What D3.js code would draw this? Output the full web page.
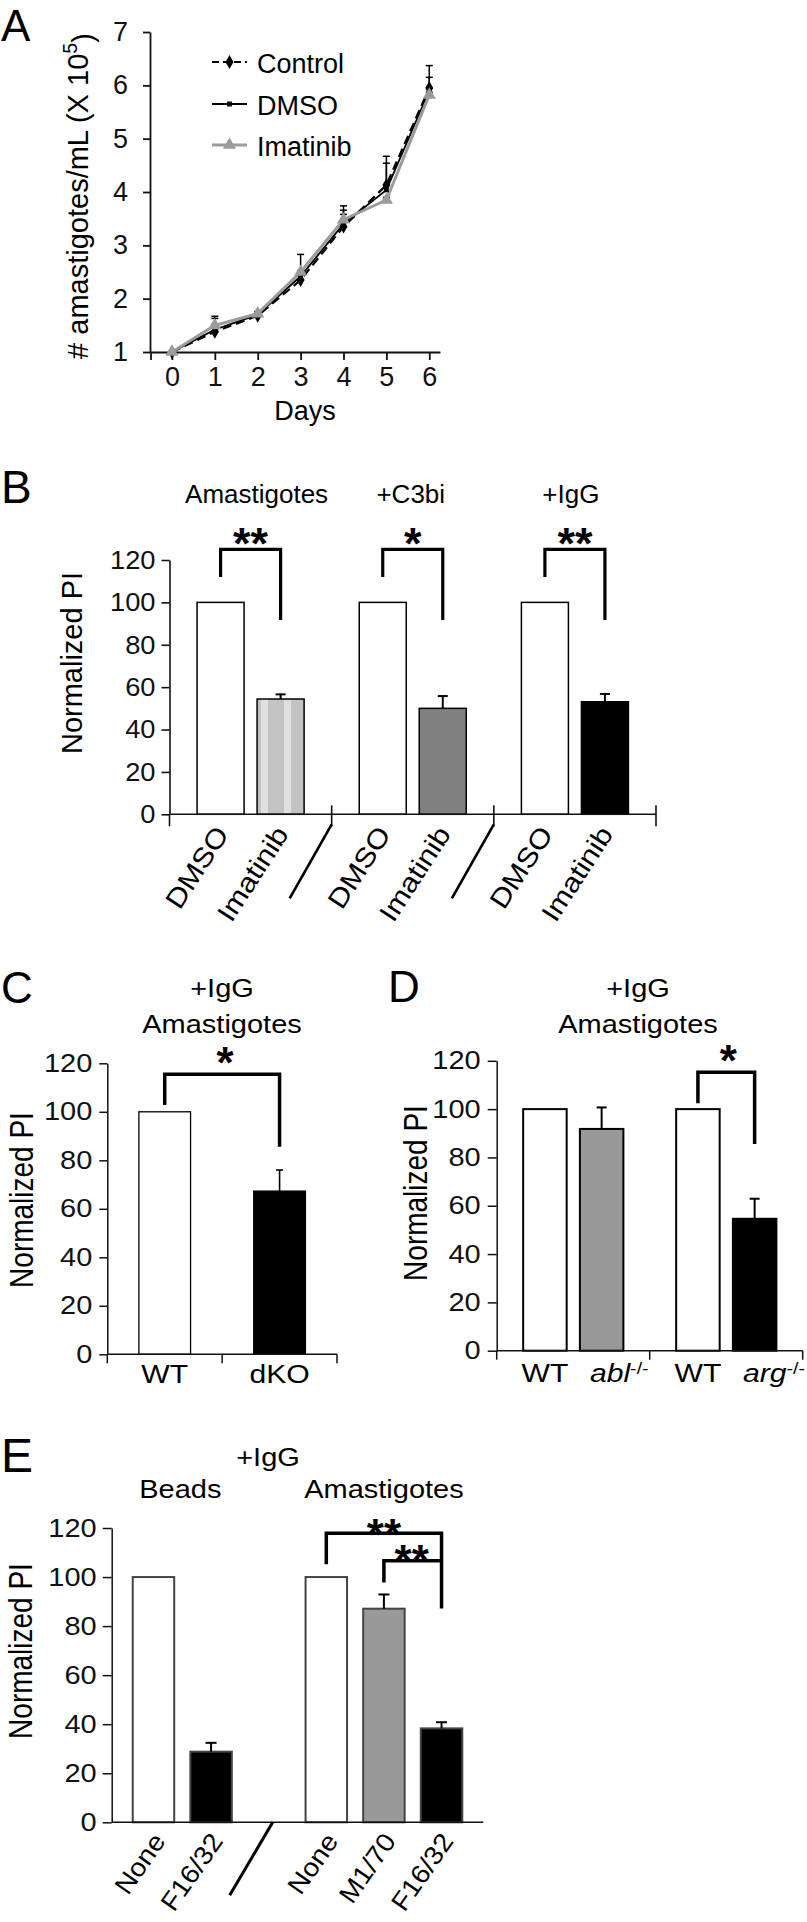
<!DOCTYPE html>
<html><head><meta charset="utf-8">
<script src="https://cdn.jsdelivr.net/npm/d3@7"></script>
<style>body{margin:0;background:#fff} svg{display:block}</style>
</head><body>
<script>
// ================= DATA =================
// Panel A
const days = [0, 1, 2, 3, 4, 5, 6];
const aTicks = [1, 2, 3, 4, 5, 6, 7];
const controlVals = [1.0, 1.38, 1.68, 2.35, 3.35, 4.13, 5.95];
const controlErr  = [0, 0.25, 0.05, 0.10, 0.31, 0.54, 0.42];
const dmsoVals    = [1.0, 1.42, 1.70, 2.42, 3.40, 4.04, 5.90];
const dmsoErr     = [0, 0.10, 0.04, 0.10, 0.34, 0.50, 0.25];
const imatinibVals = [1.0, 1.50, 1.72, 2.50, 3.48, 3.85, 5.82];
const imatinibErr  = [0, 0.17, 0.04, 0.33, 0.10, 0.05, 0.05];
const seriesNames = ['Control', 'DMSO', 'Imatinib'];

// Panel B
const bGroups = ['Amastigotes', '+C3bi', '+IgG'];
const bTreat = ['DMSO', 'Imatinib'];
const bVals = [[100, 54.4], [100, 50.0], [100, 53.1]];
const bErr  = [[0, 2.2], [0, 5.8], [0, 3.7]];
const bSig  = ['**', '*', '**'];
const piTicks = [0, 20, 40, 60, 80, 100, 120];

// Panel C
const cCats = ['WT', 'dKO'];
const cVals = [100, 67.3];
const cErr  = [0, 8.7];
const cSig  = '*';

// Panel D
const dGenes = ['abl', 'arg'];
const dBars = ['WT', 'KO'];
const dVals = [[100, 91.8], [100, 54.6]];
const dErr  = [[0, 8.9], [0, 8.3]];
const dSig  = ['', '*'];

// Panel E
const eBeadsCats = ['None', 'F16/32'];
const eBeadsVals = [100, 28.8];
const eBeadsErr  = [0, 3.6];
const eAmaCats = ['None', 'M1/70', 'F16/32'];
const eAmaVals = [100, 87.1, 38.3];
const eAmaErr  = [0, 5.8, 2.5];
const eSig = ['**', '**'];

// ================= SETUP =================
const FONT = "'Liberation Sans', Arial, Helvetica, sans-serif";
const svg = d3.select('body').append('svg').attr('width', 807).attr('height', 1922);
const defs = svg.append('defs');
const pat = defs.append('pattern').attr('id', 'stripes').attr('patternUnits', 'userSpaceOnUse')
  .attr('width', 23).attr('height', 12);
pat.append('rect').attr('width', 23).attr('height', 12).attr('fill', '#c3c3c3');
pat.append('rect').attr('x', 8).attr('width', 7).attr('height', 12).attr('fill', '#e0e0e0');

function txt(g, x, y, s, o = {}) {
  const sx = o.sx || 1, rot = o.rotate || 0;
  const tr = o.screenStretch
    ? `translate(${x},${y}) scale(${sx},1) rotate(${rot})`
    : `translate(${x},${y}) rotate(${rot}) scale(${sx},1)`;
  const t = g.append('text').attr('transform', tr)
    .attr('text-anchor', o.anchor || 'middle')
    .attr('font-family', FONT).attr('font-size', o.size || 25)
    .attr('font-weight', o.weight || 'normal').attr('fill', o.fill || '#000');
  if (s !== null) t.text(s);
  return t;
}
function styleAxis(ax, o) {
  ax.attr('font-family', null).attr('font-size', null);
  ax.select('.domain').attr('stroke', '#111').attr('stroke-width', o.lw || 1.6);
  ax.selectAll('.tick line').attr('stroke', '#111').attr('stroke-width', o.lw || 1.6);
  ax.selectAll('.tick text').each(function () {
    const t = d3.select(this);
    const x = +t.attr('x') || 0, y = +t.attr('y') || 0;
    t.attr('x', 0).attr('y', 0).attr('transform', `translate(${x},${y}) scale(${o.sx || 1},1)`);
  }).attr('font-family', FONT).attr('font-size', o.size).attr('fill', '#111');
}
function errBar(g, x, y0, y1, cap, lw) {
  g.append('line').attr('x1', x).attr('x2', x).attr('y1', y0).attr('y2', y1)
    .attr('stroke', '#000').attr('stroke-width', lw);
  g.append('line').attr('x1', x - cap / 2).attr('x2', x + cap / 2).attr('y1', y1).attr('y2', y1)
    .attr('stroke', '#000').attr('stroke-width', lw);
}
function bracket(g, xl, yl, yt, xr, yr, lw) {
  g.append('path').attr('d', `M${xl},${yl}V${yt}H${xr}V${yr}`)
    .attr('fill', 'none').attr('stroke', '#000').attr('stroke-width', lw);
}

// ================= PANEL A =================
{
  const g = svg.append('g');
  const x = d3.scaleLinear().domain([-0.5, 6.25]).range([150.5, 440]);
  const y = d3.scaleLinear().domain([1, 7]).range([352, 32]);
  const ay = g.append('g').attr('transform', 'translate(150,0)')
    .call(d3.axisLeft(y).tickValues(aTicks).tickFormat(d3.format('d')).tickSize(7).tickPadding(15).tickSizeOuter(0));
  styleAxis(ay, { size: 27, lw: 1.8 });
  const ax = g.append('g').attr('transform', `translate(0,${y(1)})`)
    .call(d3.axisBottom(x).tickValues([-0.5, ...days]).tickFormat(d => d < 0 ? '' : d)
      .tickSize(8).tickPadding(7).tickSizeOuter(0));
  styleAxis(ax, { size: 27, lw: 1.8 });

  const vals = { Control: controlVals, DMSO: dmsoVals, Imatinib: imatinibVals };
  const errs = { Control: controlErr, DMSO: dmsoErr, Imatinib: imatinibErr };
  const st = {
    Control: { stroke: '#000', w: 2.2, dash: '9,5', sym: d3.symbolDiamond, ss: 55, fill: '#000' },
    DMSO: { stroke: '#000', w: 1.8, dash: null, sym: d3.symbolSquare, ss: 24, fill: '#000' },
    Imatinib: { stroke: '#9b9b9b', w: 3, dash: null, sym: d3.symbolTriangle, ss: 75, fill: '#9b9b9b' }
  };
  seriesNames.forEach(n => days.forEach((d, i) => {
    if (errs[n][i] > 0) errBar(g, x(d), y(vals[n][i]), y(vals[n][i] + errs[n][i]), 7, 1.5);
  }));
  const line = d3.line().x((v, i) => x(days[i])).y(v => y(v));
  seriesNames.forEach(n => {
    g.append('path').attr('d', line(vals[n])).attr('fill', 'none').attr('stroke', st[n].stroke)
      .attr('stroke-width', st[n].w).attr('stroke-dasharray', st[n].dash);
  });
  seriesNames.forEach(n => {
    g.selectAll(null).data(vals[n]).join('path')
      .attr('transform', (v, i) => `translate(${x(days[i])},${y(v)})`)
      .attr('d', d3.symbol().type(st[n].sym).size(st[n].ss)).attr('fill', st[n].fill);
  });
  const ly = [62, 104, 145];
  seriesNames.forEach((n, i) => {
    g.append('line').attr('x1', 212).attr('x2', 247).attr('y1', ly[i]).attr('y2', ly[i])
      .attr('stroke', st[n].stroke).attr('stroke-width', st[n].w).attr('stroke-dasharray', n === 'Control' ? '7,4' : null);
    g.append('path').attr('transform', `translate(229.5,${ly[i]})`)
      .attr('d', d3.symbol().type(st[n].sym).size(st[n].ss)).attr('fill', st[n].fill);
    txt(g, 257, ly[i] + 11, n, { size: 27, anchor: 'start' });
  });
  txt(g, 305, 420, 'Days', { size: 27 });
  const yt = txt(g, 88, 196, null, { size: 29, rotate: -90 });
  yt.append('tspan').text('# amastigotes/mL (X 10');
  yt.append('tspan').attr('dy', '-0.55em').attr('font-size', '0.68em').text('5');
  yt.append('tspan').attr('dy', '0.55em').text(')');
  txt(g, 1, 41, 'A', { size: 44, anchor: 'start' });
}

// ================= PANEL B =================
{
  const g = svg.append('g');
  const SX = 1.0;
  const x = d3.scaleBand().domain(bGroups).range([169.5, 656]);
  const bw = x.bandwidth();
  const xi = d3.scaleBand().domain(bTreat).range([bw * 0.17, bw * 0.83]).paddingInner(0.2167);
  const y = d3.scaleLinear().domain([0, 120]).range([814.3, 560]);
  const fills = [['#fff', 'url(#stripes)'], ['#fff', '#808080'], ['#fff', '#000']];
  const titleShift = [6, -2, -4];
  bGroups.forEach((gr, gi) => {
    bTreat.forEach((t, ti) => {
      const v = bVals[gi][ti];
      g.append('rect').attr('x', x(gr) + xi(t)).attr('width', xi.bandwidth())
        .attr('y', y(v)).attr('height', y(0) - y(v))
        .attr('fill', fills[gi][ti]).attr('stroke', '#000').attr('stroke-width', 1.5);
      if (bErr[gi][ti] > 0) errBar(g, x(gr) + xi(t) + xi.bandwidth() / 2, y(v), y(v + bErr[gi][ti]), 10, 2);
      txt(g, x(gr) + xi(t) + xi.bandwidth() / 2 + 9, 834, t, { size: 27, rotate: -57, anchor: 'end', sx: 1.13 });
    });
    const xl = x(gr) + xi('DMSO') + xi.bandwidth() / 2;
    const xr = x(gr) + xi('Imatinib') + xi.bandwidth() / 2;
    bracket(g, xl, y(112), y(125), xr, y(91.7), 3.2);
    txt(g, (xl + xr) / 2, y(125) + 10, bSig[gi], { size: 45, weight: 'bold' });
    txt(g, x(gr) + bw / 2 + titleShift[gi], 503, gr, { size: 26, sx: SX });
  });
  const ay = g.append('g').attr('transform', 'translate(169.5,0)')
    .call(d3.axisLeft(y).tickValues(piTicks).tickSize(8).tickPadding(6).tickSizeOuter(0));
  styleAxis(ay, { size: 26, sx: 1.05, lw: 1.6 });
  const [r0, r1] = x.range();
  g.append('line').attr('x1', r0).attr('x2', r1).attr('y1', y(0)).attr('y2', y(0)).attr('stroke', '#111').attr('stroke-width', 1.6);
  const bounds = [r0, ...bGroups.map(gr => x(gr) + bw)];
  bounds.forEach((b, i) => {
    g.append('line').attr('x1', b).attr('x2', b).attr('y1', i === 0 ? y(0) : y(0) - 9).attr('y2', y(0) + 12)
      .attr('stroke', '#111').attr('stroke-width', 1.6);
    if (i > 0 && i < bounds.length - 1)
      g.append('line').attr('x1', b).attr('y1', y(0) + 10).attr('x2', b - 42).attr('y2', y(0) + 84)
        .attr('stroke', '#000').attr('stroke-width', 2.6);
  });
  txt(g, 82, 663, 'Normalized PI', { size: 29, rotate: -90 });
  txt(g, 1, 503, 'B', { size: 46, anchor: 'start' });
}

// ================= PANEL C =================
{
  const g = svg.append('g');
  const SX = 1.16;
  const x = d3.scaleBand().domain(cCats).range([107.3, 337]).paddingInner(0.55).paddingOuter(0.275);
  const y = d3.scaleLinear().domain([0, 120]).range([1354.3, 1063.3]);
  const fills = ['#fff', '#000'];
  cCats.forEach((c, i) => {
    g.append('rect').attr('x', x(c)).attr('width', x.bandwidth()).attr('y', y(cVals[i]))
      .attr('height', y(0) - y(cVals[i])).attr('fill', fills[i]).attr('stroke', '#000').attr('stroke-width', 1.3);
    if (cErr[i] > 0) errBar(g, x(c) + x.bandwidth() / 2, y(cVals[i]), y(cVals[i] + cErr[i]), 7, 1.6);
    txt(g, x(c) + x.bandwidth() / 2, y(0) + 29, c, { size: 26, sx: SX });
  });
  const ay = g.append('g').attr('transform', 'translate(107.3,0)')
    .call(d3.axisLeft(y).tickValues(piTicks).tickSize(8).tickPadding(7).tickSizeOuter(0));
  styleAxis(ay, { size: 25, sx: SX, lw: 1.5 });
  const [r0, r1] = x.range();
  g.append('line').attr('x1', r0).attr('x2', r1).attr('y1', y(0)).attr('y2', y(0)).attr('stroke', '#111').attr('stroke-width', 1.5);
  [0, 1, 2].forEach(i => {
    const b = r0 + i * (r1 - r0) / 2;
    g.append('line').attr('x1', b).attr('x2', b).attr('y1', y(0)).attr('y2', y(0) + 9).attr('stroke', '#111').attr('stroke-width', 1.5);
  });
  const xl = x('WT') + x.bandwidth() / 2, xr = x('dKO') + x.bandwidth() / 2;
  bracket(g, xl, y(102.8), y(115.5), xr, y(85.6), 3.5);
  txt(g, (xl + xr) / 2 + 3, y(115.5) + 4, cSig, { size: 44, weight: 'bold' });
  txt(g, 222, 996.7, '+IgG', { size: 25, sx: SX });
  txt(g, 222, 1032.7, 'Amastigotes', { size: 25, sx: SX });
  txt(g, 33, 1200, 'Normalized PI', { size: 28, rotate: -90, sx: SX, screenStretch: true });
  txt(g, 1, 1003, 'C', { size: 44, anchor: 'start' });
}

// ================= PANEL D =================
{
  const g = svg.append('g');
  const SX = 1.16;
  const x = d3.scaleBand().domain(dGenes).range([496.7, 802.7]);
  const bw = x.bandwidth();
  const xi = d3.scaleBand().domain(dBars).range([bw * 0.173, bw * 0.828]).paddingInner(0.233);
  const y = d3.scaleLinear().domain([0, 120]).range([1350.7, 1060.8]);
  const fills = [['#fff', '#999999'], ['#fff', '#000']];
  dGenes.forEach((gene, gi) => {
    dBars.forEach((b, bi) => {
      const v = dVals[gi][bi];
      g.append('rect').attr('x', x(gene) + xi(b)).attr('width', xi.bandwidth()).attr('y', y(v))
        .attr('height', y(0) - y(v)).attr('fill', fills[gi][bi]).attr('stroke', '#000').attr('stroke-width', 2);
      if (dErr[gi][bi] > 0) errBar(g, x(gene) + xi(b) + xi.bandwidth() / 2, y(v), y(v + dErr[gi][bi]), 10, 2);
    });
    txt(g, x(gene) + xi('WT') + xi.bandwidth() / 2, y(0) + 31, 'WT', { size: 26, sx: SX });
    const t = txt(g, x(gene) + xi('KO') + 10, y(0) + 31, null, { size: 26, sx: SX, anchor: 'start' });
    t.append('tspan').attr('font-style', 'italic').text(gene);
    t.append('tspan').attr('dy', '-0.45em').attr('font-size', '0.65em').text('-/-');
    const xl = x(gene) + xi('WT') + xi.bandwidth() / 2, xr = x(gene) + xi('KO') + xi.bandwidth() / 2;
    if (dSig[gi]) {
      bracket(g, xl, y(102.4), y(115.3), xr, y(85.6), 3.5);
      txt(g, (xl + xr) / 2 + 2, y(115.3) + 4, dSig[gi], { size: 44, weight: 'bold' });
    }
  });
  const ay = g.append('g').attr('transform', 'translate(496.7,0)')
    .call(d3.axisLeft(y).tickValues(piTicks).tickSize(9).tickPadding(7).tickSizeOuter(0));
  styleAxis(ay, { size: 25, sx: SX, lw: 1.5 });
  const [r0, r1] = x.range();
  g.append('line').attr('x1', r0).attr('x2', r1).attr('y1', y(0)).attr('y2', y(0)).attr('stroke', '#111').attr('stroke-width', 1.5);
  [r0, x('abl') + bw, r1].forEach(b => {
    g.append('line').attr('x1', b).attr('x2', b).attr('y1', y(0)).attr('y2', y(0) + 9).attr('stroke', '#111').attr('stroke-width', 1.5);
  });
  txt(g, 638, 996.7, '+IgG', { size: 25, sx: SX });
  txt(g, 638, 1032.7, 'Amastigotes', { size: 25, sx: SX });
  txt(g, 427, 1193, 'Normalized PI', { size: 28, rotate: -90, sx: SX, screenStretch: true });
  txt(g, 388, 1002, 'D', { size: 44, anchor: 'start' });
}

// ================= PANEL E =================
{
  const g = svg.append('g');
  const SX = 1.16;
  const slots = [...eBeadsCats.map((c, i) => 'b' + i), 'gap', ...eAmaCats.map((c, i) => 'a' + i)];
  const labels = [...eBeadsCats, null, ...eAmaCats];
  const vals = [...eBeadsVals, null, ...eAmaVals];
  const errs = [...eBeadsErr, null, ...eAmaErr];
  const fillOf = { 'None': '#fff', 'F16/32': '#000', 'M1/70': '#999999' };
  const x = d3.scaleBand().domain(slots).range([111.7, 483.3]).paddingInner(0.28).paddingOuter(0.365);
  const y = d3.scaleLinear().domain([0, 120]).range([1822.3, 1528]);
  const cx = s => x(s) + x.bandwidth() / 2;
  slots.forEach((s, i) => {
    if (vals[i] === null) return;
    g.append('rect').attr('x', x(s)).attr('width', x.bandwidth()).attr('y', y(vals[i]))
      .attr('height', y(0) - y(vals[i])).attr('fill', fillOf[labels[i]]).attr('stroke', '#444').attr('stroke-width', 2);
    if (errs[i] > 0) errBar(g, cx(s), y(vals[i]), y(vals[i] + errs[i]), 11, 2);
    txt(g, cx(s) + 13, y(0) + 19, labels[i], { size: 26, rotate: -55, anchor: 'end', sx: 1.08 });
  });
  const ay = g.append('g').attr('transform', 'translate(111.7,0)')
    .call(d3.axisLeft(y).tickValues(piTicks).tickSize(9).tickPadding(6).tickSizeOuter(0));
  styleAxis(ay, { size: 25, sx: SX, lw: 1.5 });
  const [r0, r1] = x.range();
  g.append('line').attr('x1', r0).attr('x2', r1).attr('y1', y(0)).attr('y2', y(0)).attr('stroke', '#111').attr('stroke-width', 1.5);
  const gx = cx('gap') + 4;
  g.append('line').attr('x1', gx).attr('y1', y(0)).attr('x2', gx - 43).attr('y2', y(0) + 73)
    .attr('stroke', '#000').attr('stroke-width', 3);
  bracket(g, cx('a0'), y(105.2), y(117.9), cx('a2'), y(87.2), 3.5);
  g.append('path').attr('d', `M${cx('a1')},${y(97.8)}V${y(106.6)}H${cx('a2')}`)
    .attr('fill', 'none').attr('stroke', '#000').attr('stroke-width', 3.5);
  txt(g, (cx('a0') + cx('a2')) / 2, y(117.9) + 17, eSig[0], { size: 44, weight: 'bold' });
  txt(g, (cx('a1') + cx('a2')) / 2 - 1, y(106.6) + 15, eSig[1], { size: 44, weight: 'bold' });
  txt(g, 268, 1465.5, '+IgG', { size: 25, sx: SX });
  txt(g, (cx('b0') + cx('b1')) / 2 - 2, 1497.7, 'Beads', { size: 25, sx: SX });
  txt(g, cx('a1'), 1497.7, 'Amastigotes', { size: 25, sx: SX });
  txt(g, 32, 1651, 'Normalized PI', { size: 28, rotate: -90, sx: SX, screenStretch: true });
  txt(g, 1, 1471.5, 'E', { size: 48, anchor: 'start' });
}
</script>
</body></html>
